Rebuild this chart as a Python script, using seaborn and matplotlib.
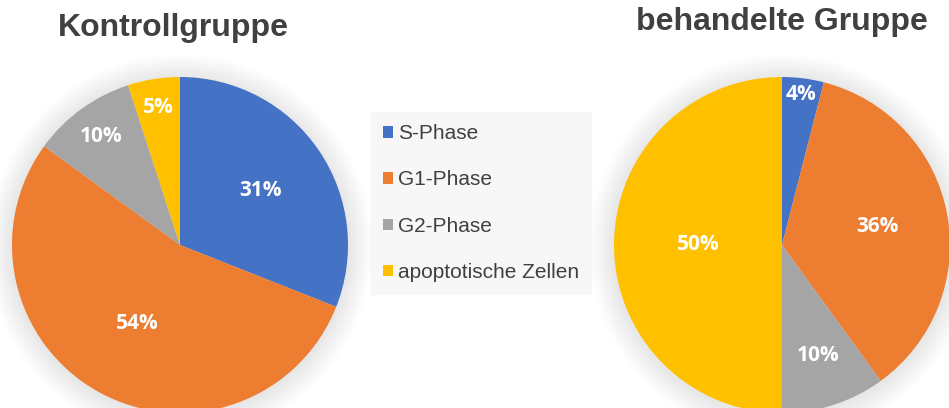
import numpy as np
import seaborn as sns
import matplotlib.pyplot as plt
from matplotlib.patches import Circle

# Data
phases = ["S-Phase", "G1-Phase", "G2-Phase", "apoptotische Zellen"]
kontroll = [31, 54, 10, 5]
behandelt = [4, 36, 10, 50]
titles = ["Kontrollgruppe", "behandelte Gruppe"]

# label distance from centre per slice (Excel moves labels to fit)
label_r_kontroll = [0.58, 0.53, 0.80, 0.83]
label_r_behandelt = [0.90, 0.58, 0.69, 0.50]

sns.set_theme(style="white")
plt.rcParams['font.family'] = ['Liberation Sans', 'DejaVu Sans']
colors = sns.color_palette(["#4472C4", "#ED7D31", "#A5A5A5", "#FFC000"])
text_col = "#404040"

fig = plt.figure(figsize=(9.49, 4.08), dpi=100)
W, H = 949, 408


def draw_pie(ax, values, label_r):
    # soft shadow
    for i in range(12):
        ax.add_patch(Circle((0, -0.01), 1.0 + 0.012 * (12 - i), color="black",
                            alpha=0.009, lw=0, zorder=0, clip_on=False))
    wedges, _ = ax.pie(values, colors=colors, startangle=90, counterclock=False,
                       radius=1.0, wedgeprops=dict(linewidth=0, zorder=2))
    for w, v, r in zip(wedges, values, label_r):
        ang = np.deg2rad((w.theta1 + w.theta2) / 2)
        ax.text(r * np.cos(ang), r * np.sin(ang), f"{v}%", ha="center", va="center",
                color="white", fontsize=15, fontweight="bold", zorder=3,
                family=["Open Sans", "DejaVu Sans"])
    ax.set_xlim(-1, 1)
    ax.set_ylim(-1, 1)
    ax.set_aspect("equal")
    ax.axis("off")
    return wedges


# pie axes placed in pixel terms: centre, radius
R = 168
ax1 = fig.add_axes([(180 - R) / W, (H - 245 - R) / H, 2 * R / W, 2 * R / H])
wedges = draw_pie(ax1, kontroll, label_r_kontroll)
ax2 = fig.add_axes([(782 - R) / W, (H - 245 - R) / H, 2 * R / W, 2 * R / H])
draw_pie(ax2, behandelt, label_r_behandelt)

fig.text(173 / W, 1 - 28 / H, titles[0], ha="center", va="center",
         fontsize=23, fontweight="bold", color=text_col)
fig.text(782 / W, 1 - 22 / H, titles[1], ha="center", va="center",
         fontsize=23, fontweight="bold", color=text_col)

leg = fig.legend(wedges, phases, loc="center", bbox_to_anchor=(481 / W, 1 - 203 / H),
                 frameon=True, fontsize=15, labelcolor=text_col,
                 handlelength=0.45, handleheight=0.45, handletextpad=0.25,
                 labelspacing=1.3, borderpad=0.6, borderaxespad=0)
frame = leg.get_frame()
frame.set_facecolor("#f6f6f6")
frame.set_edgecolor("#f6f6f6")
frame.set_boxstyle("square", pad=0)

fig.savefig("out.png", dpi=100, facecolor="white")
